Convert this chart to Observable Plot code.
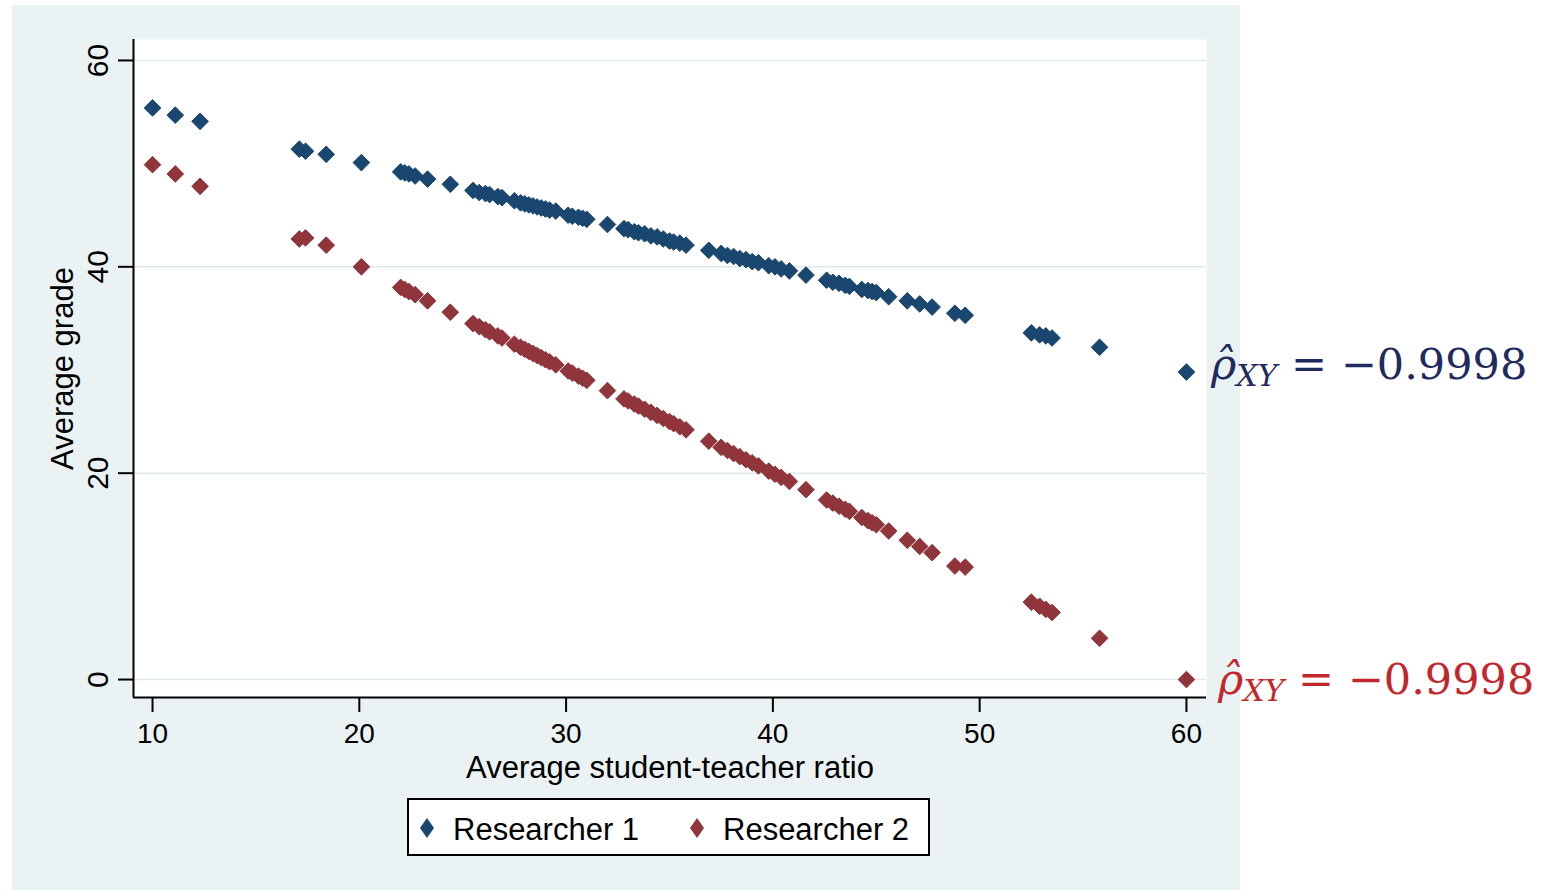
<!DOCTYPE html>
<html><head><meta charset="utf-8">
<script src="https://cdn.jsdelivr.net/npm/d3@7"></script>
<script src="https://cdn.jsdelivr.net/npm/@observablehq/plot@0.6"></script>
<style>
body{margin:0;background:#fff;}
#wrap{position:relative;width:1553px;height:893px;overflow:hidden;}
#panel{position:absolute;left:12px;top:5px;width:1228px;height:885px;background:#eaf2f3;}
#chart{position:absolute;left:0;top:0;}
#legend{position:absolute;left:407px;top:798px;width:519px;height:54px;border:2px solid #000;background:#fff;font-family:"Liberation Sans",Arial,sans-serif;font-size:31px;color:#000;line-height:1;}
#legend .item{position:absolute;top:14px;white-space:nowrap;}
#legend svg{position:absolute;}
.ann{position:absolute;font-family:"DejaVu Serif",serif;font-size:43px;line-height:1;white-space:nowrap;}
.ann .rho{font-style:italic;}
.ann .sub{font-style:italic;font-size:30px;vertical-align:-7px;}
</style></head>
<body>
<div id="wrap"><div id="panel"></div><div id="chart"></div><div id="legend"></div></div>
<script>
// ---- data ----
const ratio = [10.0, 11.1, 12.3, 17.1, 17.4, 18.4, 20.1, 22.0, 22.2, 22.4, 22.7, 23.3, 24.4, 25.5, 25.8, 26.1, 26.3, 26.7, 26.9, 27.5, 27.8, 28.0, 28.2, 28.4, 28.6, 28.8, 29.0, 29.2, 29.5, 30.1, 30.3, 30.6, 30.8, 31.0, 32.0, 32.8, 33.0, 33.3, 33.5, 33.8, 34.1, 34.4, 34.7, 35.0, 35.2, 35.5, 35.8, 36.9, 37.5, 37.8, 38.1, 38.4, 38.7, 39.0, 39.3, 39.8, 40.1, 40.4, 40.8, 41.6, 42.6, 42.9, 43.2, 43.5, 43.7, 44.3, 44.6, 44.8, 45.0, 45.6, 46.5, 47.1, 47.7, 48.8, 49.3, 52.5, 52.9, 53.2, 53.5, 55.8, 60.0];
const grade1 = [55.4, 54.7, 54.1, 51.4, 51.2, 50.9, 50.1, 49.2, 49.1, 49.0, 48.8, 48.5, 48.0, 47.4, 47.2, 47.1, 47.0, 46.8, 46.7, 46.4, 46.2, 46.1, 46.0, 45.9, 45.8, 45.7, 45.6, 45.5, 45.4, 45.0, 44.9, 44.8, 44.7, 44.6, 44.1, 43.7, 43.6, 43.4, 43.3, 43.2, 43.0, 42.9, 42.7, 42.5, 42.4, 42.3, 42.1, 41.6, 41.3, 41.1, 41.0, 40.8, 40.7, 40.5, 40.4, 40.1, 40.0, 39.8, 39.6, 39.2, 38.7, 38.5, 38.4, 38.2, 38.1, 37.8, 37.7, 37.6, 37.5, 37.1, 36.7, 36.4, 36.1, 35.5, 35.3, 33.6, 33.4, 33.3, 33.1, 32.2, 29.8];
const grade2 = [49.9, 49.0, 47.8, 42.7, 42.8, 42.1, 40.0, 38.0, 37.8, 37.6, 37.3, 36.7, 35.6, 34.5, 34.2, 33.9, 33.7, 33.3, 33.1, 32.5, 32.2, 32.0, 31.8, 31.6, 31.4, 31.2, 31.0, 30.8, 30.5, 29.9, 29.7, 29.4, 29.2, 29.0, 28.0, 27.2, 27.0, 26.7, 26.5, 26.2, 25.9, 25.6, 25.3, 25.0, 24.8, 24.5, 24.2, 23.1, 22.5, 22.2, 21.9, 21.6, 21.3, 21.0, 20.7, 20.2, 19.9, 19.6, 19.2, 18.4, 17.4, 17.1, 16.8, 16.5, 16.3, 15.7, 15.4, 15.2, 15.0, 14.4, 13.5, 12.9, 12.3, 11.0, 10.9, 7.5, 7.1, 6.8, 6.5, 4.0, 0.0];
const seriesNames = ["Researcher 1", "Researcher 2"];
const seriesColors = ["#1a476f", "#90353b"];
const annotationColors = ["#1f2b5e", "#c1272d"];
const corrLabel = "−0.9998";
const xTicks = [10, 20, 30, 40, 50, 60];
const yTicks = [0, 20, 40, 60];
const xDomain = [9.08, 60.97];
const yDomain = [-1.74, 62.03];
const xTitle = "Average student-teacher ratio";
const yTitle = "Average grade";

const data = ratio.map((r, i) => ({ratio: r, grade1: grade1[i], grade2: grade2[i]}));
const FONT = '"Liberation Sans", Arial, sans-serif';

const plot = Plot.plot({
  width: 1553, height: 893,
  marginLeft: 133, marginRight: 347, marginTop: 39, marginBottom: 196,
  style: {background: "transparent", fontFamily: FONT, color: "#000"},
  x: {domain: xDomain},
  y: {domain: yDomain},
  marks: [
    Plot.frame({fill: "#fff", stroke: null}),
    Plot.gridY(yTicks, {stroke: "#dfeaed", strokeOpacity: 1, strokeWidth: 1.5}),
    Plot.ruleX([xDomain[0]], {stroke: "#000", strokeWidth: 2}),
    Plot.ruleY([yDomain[0]], {stroke: "#000", strokeWidth: 2}),
    Plot.axisX(xTicks, {tickSize: 15, tickPadding: 11, fontSize: 28, strokeWidth: 2, label: null, tickFormat: d => String(d)}),
    Plot.axisY(yTicks, {tickSize: 15, strokeWidth: 2, label: null, tickFormat: () => ""}),
    Plot.text(yTicks, {y: d => d, text: d => String(d), frameAnchor: "left", dx: -26, rotate: -90, textAnchor: "middle", lineAnchor: "bottom", fontSize: 30}),
    Plot.text([xTitle], {text: d => d, frameAnchor: "bottom", dy: 80, lineAnchor: "bottom", fontSize: 31}),
    Plot.text([yTitle], {text: d => d, frameAnchor: "left", dx: -61, rotate: -90, textAnchor: "middle", lineAnchor: "bottom", fontSize: 31}),
    Plot.dot(data, {x: "ratio", y: "grade1", symbol: "diamond2", r: 7.5, fill: seriesColors[0], stroke: seriesColors[0], strokeWidth: 1}),
    Plot.dot(data, {x: "ratio", y: "grade2", symbol: "diamond2", r: 7.5, fill: seriesColors[1], stroke: seriesColors[1], strokeWidth: 1})
  ]
});
document.getElementById("chart").appendChild(plot);

// legend
const legend = document.getElementById("legend");
const legendPos = [[18, 44], [288, 314]];
seriesNames.forEach((name, i) => {
  const [cx, tx] = legendPos[i];
  const s = document.createElementNS("http://www.w3.org/2000/svg", "svg");
  s.setAttribute("width", 16); s.setAttribute("height", 20);
  s.style.left = (cx - 8) + "px"; s.style.top = "18px";
  s.innerHTML = `<polygon points="8,0 15,10 8,20 1,10" fill="${seriesColors[i]}"/>`;
  legend.appendChild(s);
  const t = document.createElement("div");
  t.className = "item"; t.style.left = tx + "px"; t.textContent = name;
  legend.appendChild(t);
});

// correlation annotations next to the last point of each series
const xs = plot.scale("x"), ys = plot.scale("y");
const last = ratio.length - 1;
const anns = [
  {y: grade1[last], dx: 25, dy: -29},
  {y: grade2[last], dx: 32, dy: -21}
];
anns.forEach((a, i) => {
  const d = document.createElement("div");
  d.className = "ann";
  d.style.color = annotationColors[i];
  d.style.left = (xs.apply(ratio[last]) + a.dx) + "px";
  d.style.top = (ys.apply(a.y) + a.dy) + "px";
  d.innerHTML = `<span class="rho">ρ&#770;</span><span class="sub">XY</span> = ${corrLabel}`;
  document.getElementById("wrap").appendChild(d);
});
</script>
</body></html>
